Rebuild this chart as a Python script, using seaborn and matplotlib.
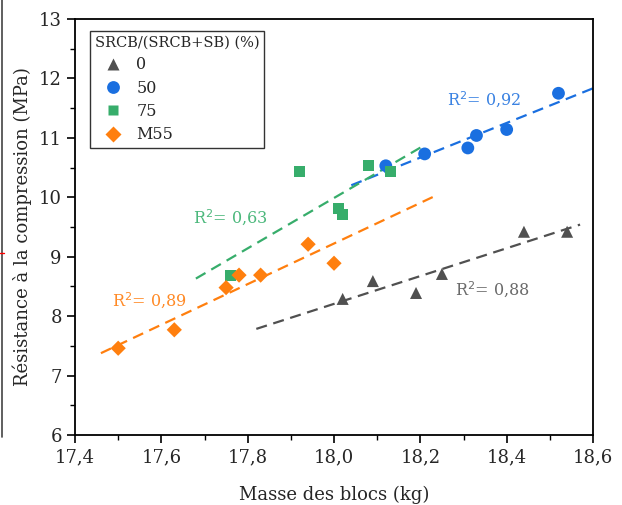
import numpy as np
import pandas as pd
import seaborn as sns
import matplotlib.pyplot as plt
from matplotlib.ticker import MultipleLocator, FuncFormatter
from matplotlib.lines import Line2D

# donnees
masse_0 = [18.02, 18.09, 18.19, 18.25, 18.44, 18.54]
res_0 = [8.29, 8.59, 8.39, 8.71, 9.42, 9.42]
masse_50 = [18.12, 18.21, 18.31, 18.33, 18.40, 18.52]
res_50 = [10.53, 10.73, 10.83, 11.04, 11.14, 11.75]
masse_75 = [17.76, 17.92, 18.01, 18.02, 18.08, 18.13]
res_75 = [8.68, 10.43, 9.81, 9.71, 10.53, 10.43]
masse_m55 = [17.50, 17.63, 17.75, 17.78, 17.83, 17.94, 18.00]
res_m55 = [7.46, 7.77, 8.48, 8.69, 8.69, 9.21, 8.89]

groupes = ['0', '50', '75', 'M55']
r2 = ['0,88', '0,92', '0,63', '0,89']
x_fit = [(17.82, 18.57), (18.04, 18.6), (17.68, 18.20), (17.46, 18.24)]

couleurs = {'0': '#505050', '50': '#1a6fe0', '75': '#37ad6b', 'M55': '#ff7f0e'}
couleurs_txt = {'0': '#6a6a6a', '50': '#3a82e2', '75': '#4cb87c', 'M55': '#ff8a26'}
marqueurs = {'0': '^', '50': 'o', '75': 's', 'M55': 'D'}
tailles = {'0': 75, '50': 85, '75': 60, 'M55': 60}

df = pd.DataFrame({
    'masse': masse_0 + masse_50 + masse_75 + masse_m55,
    'res': res_0 + res_50 + res_75 + res_m55,
    'groupe': ['0'] * len(masse_0) + ['50'] * len(masse_50)
              + ['75'] * len(masse_75) + ['M55'] * len(masse_m55),
})

sns.set_style('ticks')
plt.rcParams['font.family'] = ['DejaVu Serif']

fig = plt.figure(figsize=(6.22, 5.05), dpi=100)
ax = fig.add_axes([0.1206, 0.1386, 0.8328, 0.8238])

# droites de regression
for g, (x0, x1) in zip(groupes, x_fit):
    d = df[df.groupe == g]
    a, b = np.polyfit(d.masse, d.res, 1)
    xs = np.array([x0, x1])
    ax.plot(xs, a * xs + b, ls=(0, (5, 3)), lw=1.6, color=couleurs[g], zorder=1)

for g in groupes:
    d = df[df.groupe == g]
    sns.scatterplot(data=d, x='masse', y='res', color=couleurs[g], marker=marqueurs[g],
                    s=tailles[g], edgecolor='none', ax=ax, zorder=3)

# textes R2
pos_txt = [(18.28, 8.44), (18.262, 11.64), (17.673, 9.65), (17.486, 8.25)]
for g, val, (tx, ty) in zip(groupes, r2, pos_txt):
    ax.text(tx, ty, 'R$^2$= ' + val, color=couleurs_txt[g], fontsize=11.5, ha='left', va='center')

ax.set_xlim(17.4, 18.6)
ax.set_ylim(6, 13)
ax.xaxis.set_major_locator(MultipleLocator(0.2))
ax.xaxis.set_minor_locator(MultipleLocator(0.1))
ax.yaxis.set_major_locator(MultipleLocator(1))
ax.yaxis.set_minor_locator(MultipleLocator(0.5))
ax.xaxis.set_major_formatter(FuncFormatter(lambda v, p: f'{v:.1f}'.replace('.', ',')))
ax.tick_params(which='major', length=6, width=1.2, labelsize=13, color='black')
ax.tick_params(which='minor', length=3.5, width=1.0, color='black')
for s in ax.spines.values():
    s.set_linewidth(1.3)
    s.set_color('black')

ax.set_xlabel('Masse des blocs (kg)', fontsize=13, labelpad=14)
ax.set_ylabel('Résistance à la compression (MPa)', fontsize=13, labelpad=5)

handles = [Line2D([], [], ls='none', marker=marqueurs[g], color=couleurs[g],
                  markersize=np.sqrt(tailles[g]), markeredgecolor='none') for g in groupes]
leg = ax.legend(handles, groupes, title='SRCB/(SRCB+SB) (%)', loc='upper left',
                bbox_to_anchor=(0.029, 0.971), borderaxespad=0, fontsize=11.5, title_fontsize=10.5,
                frameon=True, fancybox=False, edgecolor='black', borderpad=0.3,
                labelspacing=0.4, handlelength=2.3, handletextpad=0.3, alignment='left')
leg.get_frame().set_linewidth(1.0)

# bord a gauche de l'image originale
fig.add_artist(Line2D([0.003, 0.003], [0.135, 1.0], color='#444444', lw=1.2))
fig.add_artist(Line2D([0.0, 0.006], [0.499, 0.499], color='red', lw=1.0))

fig.savefig('out.png', dpi=100)
